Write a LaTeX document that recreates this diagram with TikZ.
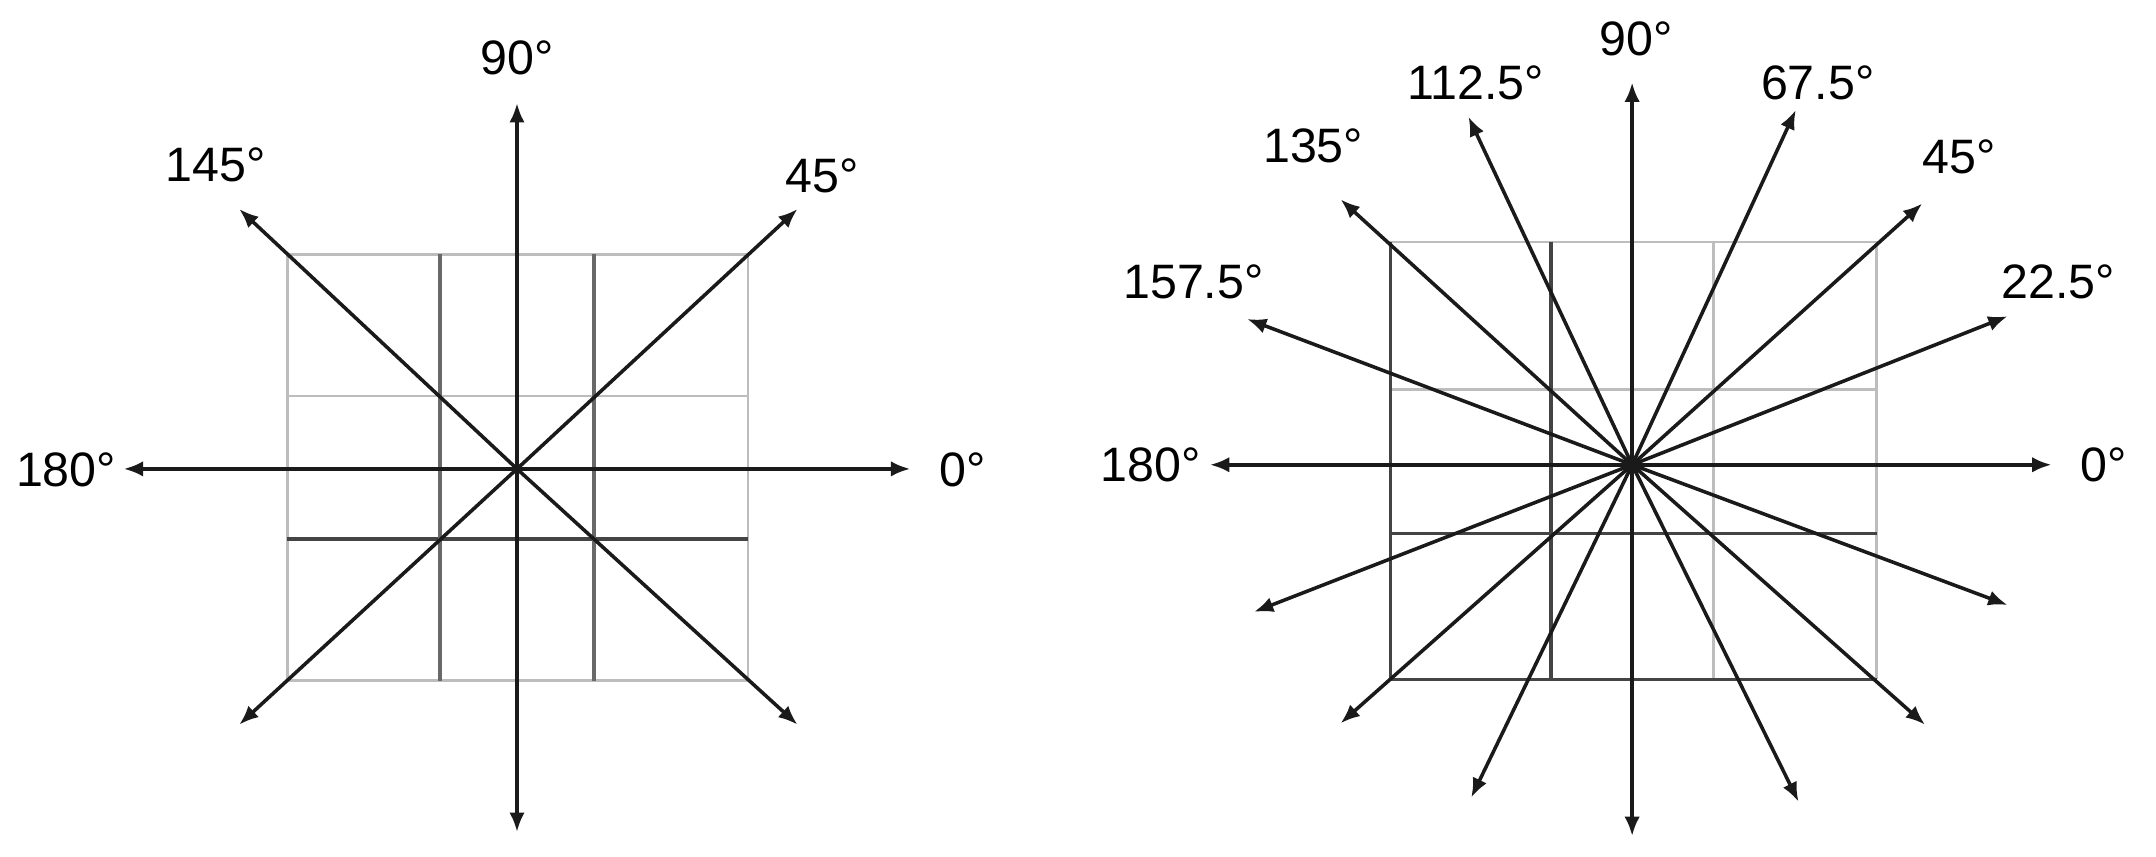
\documentclass[tikz,border=0pt]{standalone}
\usepackage{fontspec}
\setmainfont{Liberation Sans}
\usetikzlibrary{arrows.meta}
\definecolor{gridlight}{HTML}{BDBDBD}
\definecolor{griddark}{HTML}{444444}
\definecolor{axis}{HTML}{1A1A1A}
\tikzset{
  ray/.style={->,axis,line width=1.1pt},
  lab/.style={font=\fontsize{15}{18}\selectfont,inner sep=0pt},
  thin grid/.style={gridlight,line width=0.9pt},
  thick grid/.style={griddark,line width=1pt}
}
\begin{document}
\begin{tikzpicture}[x=0.015cm,y=-0.015cm,>={Latex[length=6pt,width=4.8pt]}]
  \useasboundingbox (0,0) rectangle (1568,623);

  % left: eight directions
  \draw[thin grid] (209,185) rectangle (544,495);
  \draw[thin grid] (209,288) -- (544,288);
  \draw[thick grid] (209,392) -- (544,392);
  \draw[thick grid,griddark!80] (320,185) -- (320,495);
  \draw[thick grid,griddark!80] (432,185) -- (432,495);

  \coordinate (L) at (376,341);
  \coordinate (L0) at (662,341);
  \coordinate (L45) at (580,152);
  \coordinate (L90) at (376,75);
  \coordinate (L135) at (174,152);
  \coordinate (L180) at (90,341);
  \coordinate (L225) at (174,527);
  \coordinate (L270) at (376,605);
  \coordinate (L315) at (580,527);
  \foreach \d in {0,45,90,135,180,225,270,315}
    \draw[ray] (L) -- (L\d);

  \node[lab] (l0) at (700,342) {0°};
  \node[lab] (l45) at (598,128) {45°};
  \node[lab] (l90) at (376,42) {90°};
  \node[lab] (l145) at (157,120) {145°};
  \node[lab] (l180) at (48,342) {180°};

  % right: sixteen directions
  \draw[thin grid] (1011,176) -- (1365,176) -- (1365,494);
  \draw[thin grid] (1246,176) -- (1246,494);
  \draw[thin grid] (1011,283) -- (1365,283);
  \draw[thick grid] (1011,176) -- (1011,494) -- (1365,494);
  \draw[thick grid] (1128,176) -- (1128,494);
  \draw[thick grid] (1011,388) -- (1365,388);

  \coordinate (R) at (1187,338);
  \foreach \n/\p in {0/{1492,338}, 1/{1460,230}, 2/{1398,148}, 3/{1306,80},
      4/{1187,60}, 5/{1068,85}, 6/{975,145}, 7/{907,232},
      8/{880,338}, 9/{912,445}, 10/{975,526}, 11/{1070,580},
      12/{1187,608}, 13/{1308,583}, 14/{1400,527}, 15/{1460,440}}
    \coordinate (R\n) at (\p);
  \foreach \n in {0,...,15}
    \draw[ray] (R) -- (R\n);

  \node[lab] (r0) at (1530,338) {0°};
  \node[lab] (r22) at (1497,205) {22.5°};
  \node[lab] (r45) at (1425,114) {45°};
  \node[lab] (r67) at (1322,60) {67.5°};
  \node[lab] (r90) at (1190,28) {90°};
  \node[lab] (r112) at (1073,60) {112.5°};
  \node[lab] (r135) at (955,106) {135°};
  \node[lab] (r157) at (868,205) {157.5°};
  \node[lab] (r180) at (837,338) {180°};
\end{tikzpicture}
\end{document}
